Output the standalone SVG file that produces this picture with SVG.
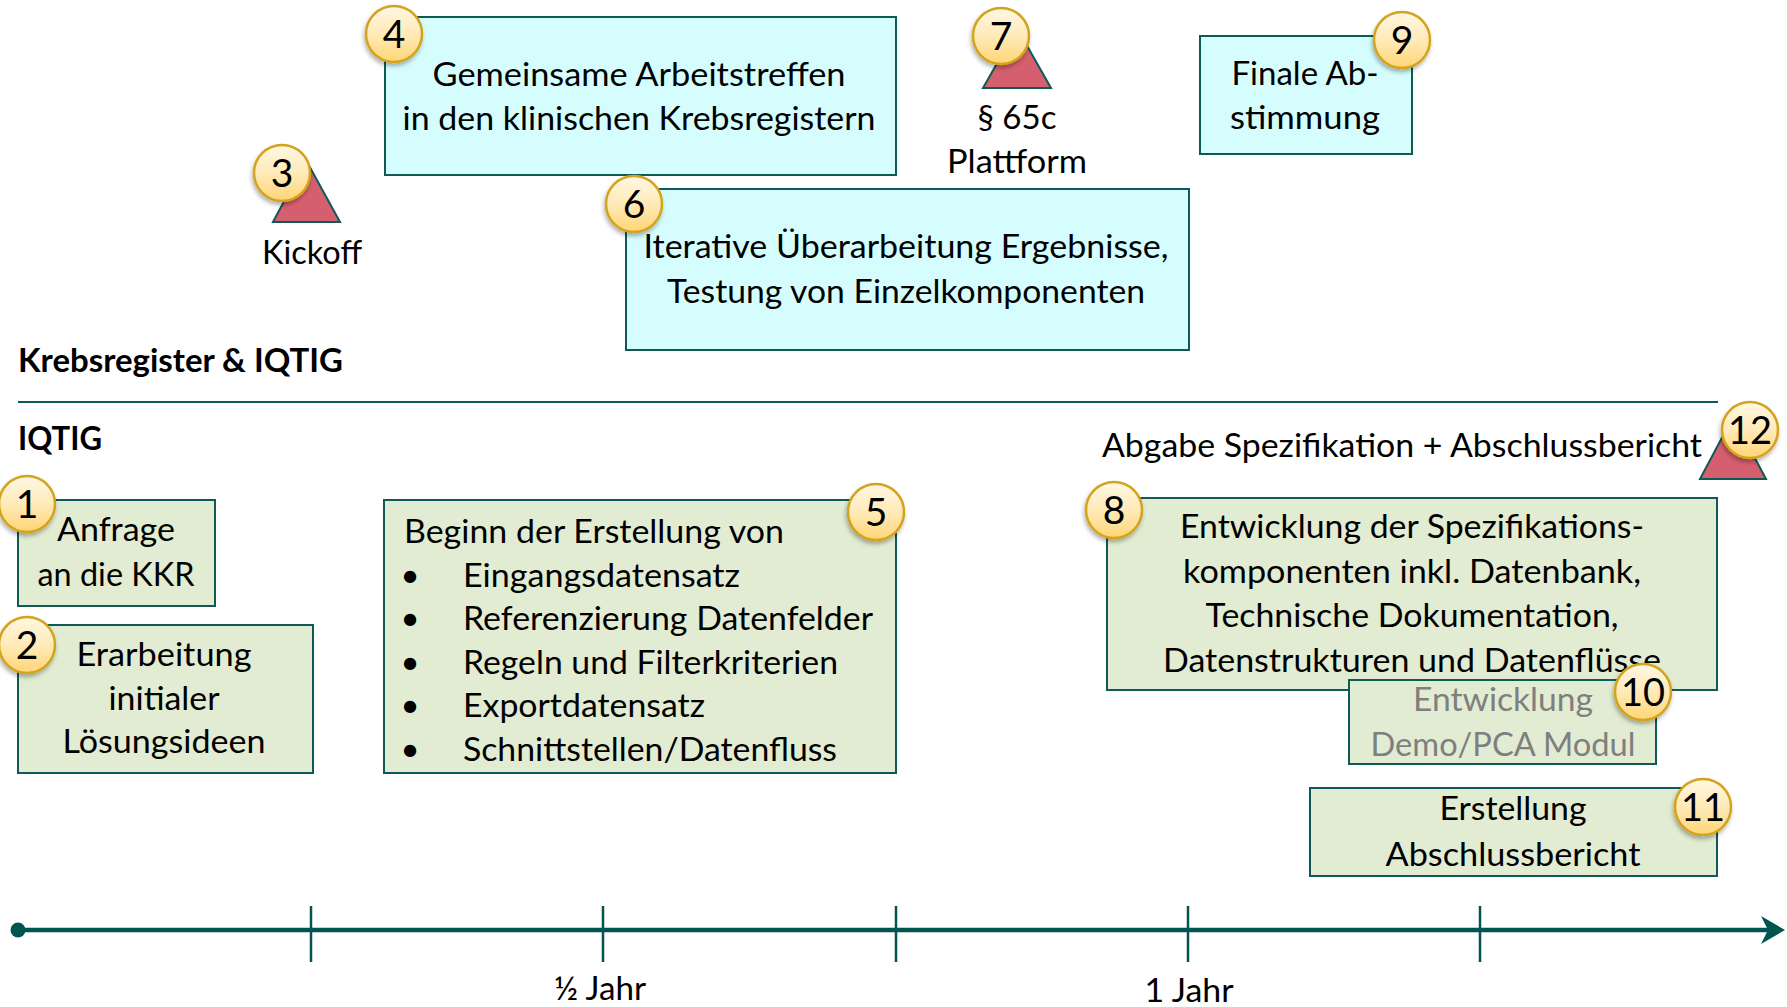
<svg xmlns="http://www.w3.org/2000/svg" width="1787" height="1007" viewBox="0 0 1787 1007">
<defs>
<style>
text{font-family:Lato,"Liberation Sans",sans-serif;font-size:33px;fill:#000}
.c{text-anchor:middle}
.b{font-weight:bold}
.g{fill:#7f7f7f}
.cy{fill:#d5fdfd;stroke:#0e5a56;stroke-width:2}
.gr{fill:#e2ecd2;stroke:#0e5a56;stroke-width:2}
.tri{fill:#d55f6e;stroke:#0e5a56;stroke-width:2;stroke-linejoin:miter}
.bd circle{fill:url(#bg);stroke:#d4a31c;stroke-width:2.5;filter:url(#sh)}
.bd text{font-size:39px;text-anchor:middle}
.ax{stroke:#00554f;fill:none}
</style>
<linearGradient id="bg" x1="0" y1="0" x2="0" y2="1">
<stop offset="0" stop-color="#fff8e4"/>
<stop offset="0.5" stop-color="#ffeab8"/>
<stop offset="1" stop-color="#ffd575"/>
</linearGradient>
<filter id="sh" x="-30%" y="-30%" width="160%" height="170%">
<feDropShadow dx="-1" dy="3" stdDeviation="2" flood-color="#000" flood-opacity="0.3"/>
</filter>
</defs>
<rect width="1787" height="1007" fill="#fff"/>

<g id="kickoff">
<polygon class="tri" points="273,222 340,222 306,160"/>
<text class="c" x="312" y="264" textLength="100" lengthAdjust="spacingAndGlyphs">Kickoff</text>
<g class="bd"><circle cx="282" cy="173" r="28"/><text x="282" y="187">3</text></g>
</g>

<g id="node4">
<rect class="cy" x="385" y="17" width="511" height="158"/>
<text class="c" x="639" y="86" textLength="413" lengthAdjust="spacingAndGlyphs">Gemeinsame Arbeitstreffen</text>
<text class="c" x="639" y="130" textLength="473" lengthAdjust="spacingAndGlyphs">in den klinischen Krebsregistern</text>
<g class="bd"><circle cx="394" cy="34" r="28"/><text x="394" y="48">4</text></g>
</g>

<g id="plattform">
<polygon class="tri" points="983,88 1051,88 1017,28"/>
<text class="c" x="1017" y="129" textLength="79" lengthAdjust="spacingAndGlyphs">§ 65c</text>
<text class="c" x="1017" y="173" textLength="140" lengthAdjust="spacingAndGlyphs">Plattform</text>
<g class="bd"><circle cx="1001" cy="36" r="28"/><text x="1001" y="50">7</text></g>
</g>

<g id="node9">
<rect class="cy" x="1200" y="36" width="212" height="118"/>
<text class="c" x="1305" y="85" textLength="147" lengthAdjust="spacingAndGlyphs">Finale Ab-</text>
<text class="c" x="1305" y="129" textLength="150" lengthAdjust="spacingAndGlyphs">stimmung</text>
<g class="bd"><circle cx="1402" cy="40" r="28"/><text x="1402" y="54">9</text></g>
</g>

<g id="node6">
<rect class="cy" x="626" y="189" width="563" height="161"/>
<text class="c" x="906" y="258" textLength="525" lengthAdjust="spacingAndGlyphs">Iterative Überarbeitung Ergebnisse,</text>
<text class="c" x="906" y="303" textLength="478" lengthAdjust="spacingAndGlyphs">Testung von Einzelkomponenten</text>
<g class="bd"><circle cx="634" cy="204" r="28"/><text x="634" y="218">6</text></g>
</g>

<g id="lanes">
<text class="b" x="18" y="372" textLength="325" lengthAdjust="spacingAndGlyphs">Krebsregister &amp; IQTIG</text>
<line x1="18" y1="402" x2="1718" y2="402" stroke="#0e5a56" stroke-width="2"/>
<text class="b" x="18" y="450" textLength="84" lengthAdjust="spacingAndGlyphs">IQTIG</text>
</g>

<g id="node1">
<rect class="gr" x="18" y="500" width="197" height="106"/>
<text class="c" x="116" y="541" textLength="118" lengthAdjust="spacingAndGlyphs">Anfrage</text>
<text class="c" x="116" y="586" textLength="157" lengthAdjust="spacingAndGlyphs">an die KKR</text>
<g class="bd"><circle cx="27" cy="504" r="28"/><text x="27" y="518">1</text></g>
</g>

<g id="node2">
<rect class="gr" x="18" y="625" width="295" height="148"/>
<text class="c" x="164" y="666" textLength="175" lengthAdjust="spacingAndGlyphs">Erarbeitung</text>
<text class="c" x="164" y="710" textLength="111" lengthAdjust="spacingAndGlyphs">initialer</text>
<text class="c" x="164" y="753" textLength="203" lengthAdjust="spacingAndGlyphs">Lösungsideen</text>
<g class="bd"><circle cx="27" cy="645" r="28"/><text x="27" y="659">2</text></g>
</g>

<g id="node5">
<rect class="gr" x="384" y="500" width="512" height="273"/>
<text x="404" y="543" textLength="380" lengthAdjust="spacingAndGlyphs">Beginn der Erstellung von</text>
<text class="c" x="410" y="587">•</text>
<text x="463" y="587" textLength="277" lengthAdjust="spacingAndGlyphs">Eingangsdatensatz</text>
<text class="c" x="410" y="630">•</text>
<text x="463" y="630" textLength="410" lengthAdjust="spacingAndGlyphs">Referenzierung Datenfelder</text>
<text class="c" x="410" y="674">•</text>
<text x="463" y="674" textLength="375" lengthAdjust="spacingAndGlyphs">Regeln und Filterkriterien</text>
<text class="c" x="410" y="717">•</text>
<text x="463" y="717" textLength="242" lengthAdjust="spacingAndGlyphs">Exportdatensatz</text>
<text class="c" x="410" y="761">•</text>
<text x="463" y="761" textLength="374" lengthAdjust="spacingAndGlyphs">Schnittstellen/Datenfluss</text>
<g class="bd"><circle cx="876" cy="512" r="28"/><text x="876" y="526">5</text></g>
</g>

<g id="abgabe">
<polygon class="tri" points="1700,479 1766,479 1733,417"/>
<text x="1102" y="457" textLength="600" lengthAdjust="spacingAndGlyphs">Abgabe Spezifikation + Abschlussbericht</text>
<g class="bd"><circle cx="1750" cy="430" r="28"/><text x="1750" y="444" textLength="44" lengthAdjust="spacingAndGlyphs">12</text></g>
</g>

<g id="node8">
<rect class="gr" x="1107" y="498" width="610" height="192"/>
<text class="c" x="1412" y="538" textLength="464" lengthAdjust="spacingAndGlyphs">Entwicklung der Spezifikations-</text>
<text class="c" x="1412" y="583" textLength="458" lengthAdjust="spacingAndGlyphs">komponenten inkl. Datenbank,</text>
<text class="c" x="1412" y="627" textLength="413" lengthAdjust="spacingAndGlyphs">Technische Dokumentation,</text>
<text class="c" x="1412" y="672" textLength="498" lengthAdjust="spacingAndGlyphs">Datenstrukturen und Datenflüsse</text>
<g class="bd"><circle cx="1114" cy="510" r="28"/><text x="1114" y="524">8</text></g>
</g>

<g id="node10">
<rect class="gr" x="1349" y="680" width="307" height="84"/>
<text class="c g" x="1503" y="711" textLength="180" lengthAdjust="spacingAndGlyphs">Entwicklung</text>
<text class="c g" x="1503" y="756" textLength="265" lengthAdjust="spacingAndGlyphs">Demo/PCA Modul</text>
<g class="bd"><circle cx="1643" cy="692" r="28"/><text x="1643" y="706" textLength="44" lengthAdjust="spacingAndGlyphs">10</text></g>
</g>

<g id="node11">
<rect class="gr" x="1310" y="788" width="407" height="88"/>
<text class="c" x="1513" y="820" textLength="147" lengthAdjust="spacingAndGlyphs">Erstellung</text>
<text class="c" x="1513" y="866" textLength="255" lengthAdjust="spacingAndGlyphs">Abschlussbericht</text>
<g class="bd"><circle cx="1703" cy="807" r="28"/><text x="1703" y="821" textLength="44" lengthAdjust="spacingAndGlyphs">11</text></g>
</g>

<g id="connectors">
<g id="timeline">
<line class="ax" x1="18" y1="930" x2="1768" y2="930" stroke-width="4.5"/>
<ellipse cx="18" cy="930" rx="7.5" ry="7.5" fill="#00554f"/>
<polygon points="1785,930 1761,916 1768,930 1761,944" fill="#00554f"/>
<g class="ax" stroke-width="2.5">
<line x1="311" y1="906" x2="311" y2="962"/>
<line x1="603" y1="906" x2="603" y2="962"/>
<line x1="896" y1="906" x2="896" y2="962"/>
<line x1="1188" y1="906" x2="1188" y2="962"/>
<line x1="1480" y1="906" x2="1480" y2="962"/>
</g>
<text class="c" x="600" y="1000" textLength="92" lengthAdjust="spacingAndGlyphs">½ Jahr</text>
<text class="c" x="1189" y="1002" textLength="89" lengthAdjust="spacingAndGlyphs">1 Jahr</text>
</g>
</g>
</svg>
